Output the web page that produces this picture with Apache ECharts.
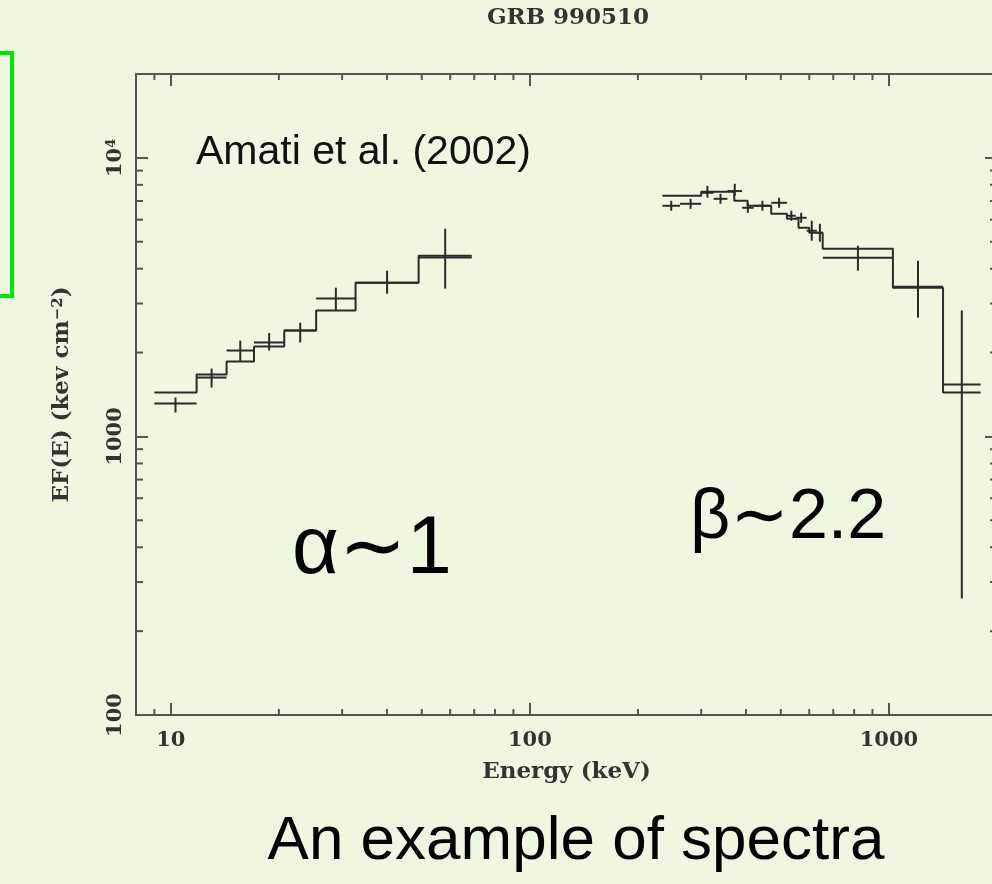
<!DOCTYPE html>
<html>
<meta charset="UTF-8">
<title>grb-990510</title>
<style type="text/css">
    html,
    body {
        margin: 0px;
        height: 100%;
        width: 100%;
        background-color: #eef8e0;
    }

    #chart {
        width: 992px;
        height: 884px;
    }
</style>
<script src="https://cdn.jsdelivr.net/npm/echarts@6.0.0/dist/echarts.min.js"></script>

<body>
    <div id="chart"></div>
    <script>

        // low energy part: bin edges (keV), measured EF(E) with error range, model
        const lowEdges = [9.0, 11.8, 14.3, 17.05, 20.7, 25.4, 32.7, 49.0, 68.9];
        const lowFlux = [1313, 1627, 2034, 2174, 2398, 3124, 3565, 4387];
        const lowFluxMin = [1219, 1498, 1856, 2034, 2174, 2829, 3254, 3393];
        const lowFluxMax = [1380, 1752, 2208, 2350, 2560, 3420, 3936, 5566];
        const lowModel = [1438, 1668, 1856, 2102, 2398, 2830, 3565, 4454];

        // high energy part
        const highEdges = [234, 262, 300, 325, 355, 390, 420, 470, 520, 550, 590, 630, 655, 1026, 1415, 1800];
        const highFlux = [6730, 6841, 7492, 7129, 7600, 6620, 6730, 6898, 6196, 6094, 5474, 5384, 4381, 3449, 1536];
        const highFluxMin = [6460, 6560, 7200, 6840, 7307, 6350, 6460, 6620, 5946, 5850, 5040, 5000, 3936, 2670, 262];
        const highFluxMax = [7013, 7130, 7935, 7430, 8070, 6900, 7013, 7190, 6457, 6350, 5946, 5800, 4836, 4273, 2829];
        const highModelEdges = [234, 300, 371, 404, 470, 520, 560, 600, 654, 1026, 1415, 1800];
        const highModel = [7307, 7552, 7013, 6730, 6300, 6045, 5612, 5384, 4718, 3420, 1438];

        // axes
        const xMin = 8, xMax = 2000;
        const yMin = 100, yMax = 20000;
        const xMajor = [10, 100, 1000];
        const yMajor = [100, 1000, 10000];
        const xMinor = [9, 20, 30, 40, 50, 60, 70, 80, 90, 200, 300, 400, 500, 600, 700, 800, 900];
        const yMinor = [200, 300, 400, 500, 600, 700, 800, 900, 2000, 3000, 4000, 5000, 6000, 7000, 8000, 9000];

        const ink = '#2b2b2b';
        const frame = '#555';
        const serif = '"DejaVu Serif", serif';
        const sans = '"Liberation Sans", "DejaVu Sans", sans-serif';

        function binRows(edges, flux, fmin, fmax) {
            return flux.map((f, i) => [edges[i], edges[i + 1], f, fmin[i], fmax[i]]);
        }

        function steps(edges, values) {
            const pts = [];
            values.forEach((v, i) => {
                pts.push([edges[i], v], [edges[i + 1], v]);
            });
            return pts;
        }

        function renderCross(params, api) {
            const lo = api.value(0), hi = api.value(1);
            const f = api.value(2);
            const mid = Math.sqrt(lo * hi);
            const a = api.coord([lo, f]), b = api.coord([hi, f]);
            const c = api.coord([mid, api.value(3)]), d = api.coord([mid, api.value(4)]);
            const style = { stroke: ink, lineWidth: 2 };
            return {
                type: 'group',
                children: [
                    { type: 'line', shape: { x1: a[0], y1: a[1], x2: b[0], y2: b[1] }, style: style },
                    { type: 'line', shape: { x1: c[0], y1: c[1], x2: d[0], y2: d[1] }, style: style }
                ]
            };
        }

        // minor ticks on all four sides of the frame
        function renderXMinor(params, api) {
            const v = api.value(0);
            const b = api.coord([v, yMin]), t = api.coord([v, yMax]);
            const style = { stroke: frame, lineWidth: 2 };
            return {
                type: 'group',
                children: [
                    { type: 'line', shape: { x1: b[0], y1: b[1], x2: b[0], y2: b[1] - 6 }, style: style },
                    { type: 'line', shape: { x1: t[0], y1: t[1], x2: t[0], y2: t[1] + 6 }, style: style }
                ]
            };
        }

        function renderYMinor(params, api) {
            const v = api.value(1);
            const l = api.coord([xMin, v]), r = api.coord([xMax, v]);
            const style = { stroke: frame, lineWidth: 2 };
            return {
                type: 'group',
                children: [
                    { type: 'line', shape: { x1: l[0], y1: l[1], x2: l[0] + 7, y2: l[1] }, style: style },
                    { type: 'line', shape: { x1: r[0], y1: r[1], x2: r[0] - 7, y2: r[1] }, style: style }
                ]
            };
        }

        function majorLabel(list) {
            return function (v) {
                const r = Math.round(v);
                if (!list.includes(r)) return '';
                if (r === 10000) return '10{sup|4}';
                return String(r);
            };
        }

        const labelText = {
            color: '#333',
            fontFamily: serif,
            fontWeight: 'bold',
            fontSize: 21
        };
        const supText = { fontFamily: serif, fontWeight: 'bold', fontSize: 13, color: '#333', verticalAlign: 'top' };

        const frameAxis = {
            type: 'log',
            logBase: 10,
            axisLine: { show: true, lineStyle: { color: frame, width: 2 } },
            axisTick: { show: true, inside: true, length: 12, lineStyle: { color: frame, width: 2 } },
            splitLine: { show: false }
        };

        const chart = echarts.init(document.querySelector('#chart'));
        const options = {
            backgroundColor: '#eef8e0',
            animation: false,
            grid: { left: 136, top: 74, right: -5, bottom: 169, outerBoundsMode: 'none' },
            xAxis: [
                Object.assign({}, frameAxis, {
                    position: 'bottom',
                    min: xMin,
                    max: xMax,
                    name: 'Energy (keV)',
                    nameLocation: 'middle',
                    nameGap: 46,
                    nameTextStyle: Object.assign({}, labelText, { fontSize: 23 }),
                    axisLabel: Object.assign({}, labelText, {
                        margin: 15,
                        showMinLabel: false,
                        showMaxLabel: false,
                        formatter: majorLabel(xMajor)
                    })
                }),
                Object.assign({}, frameAxis, {
                    position: 'top',
                    min: xMin,
                    max: xMax,
                    axisLabel: { show: false }
                })
            ],
            yAxis: [
                Object.assign({}, frameAxis, {
                    position: 'left',
                    min: yMin,
                    max: yMax,
                    name: 'EF(E) (kev cm{sup|−2})',
                    nameLocation: 'middle',
                    nameGap: 62,
                    nameTextStyle: Object.assign({}, labelText, {
                        fontSize: 23,
                        rich: { sup: Object.assign({}, supText, { fontSize: 15 }) }
                    }),
                    axisLabel: Object.assign({}, labelText, {
                        rotate: 90,
                        margin: 10,
                        showMinLabel: true,
                        showMaxLabel: false,
                        formatter: majorLabel(yMajor),
                        rich: { sup: supText }
                    })
                }),
                Object.assign({}, frameAxis, {
                    position: 'right',
                    min: yMin,
                    max: yMax,
                    axisLabel: { show: false }
                })
            ],
            graphic: [
                {
                    type: 'rect',
                    shape: { x: -10, y: 53, width: 22, height: 243 },
                    style: { fill: 'none', stroke: '#00e600', lineWidth: 4 }
                },
                {
                    type: 'text', x: 568, y: 18,
                    style: { text: 'GRB 990510', fontFamily: serif, fontWeight: 'bold', fontSize: 23, fill: '#333', align: 'center', verticalAlign: 'middle' }
                },
                {
                    type: 'text', x: 196, y: 153,
                    style: { text: 'Amati et al. (2002)', fontFamily: sans, fontSize: 41, fill: '#111', align: 'left', verticalAlign: 'middle' }
                },
                {
                    type: 'text', x: 292, y: 551,
                    style: { text: 'α∼1', fontFamily: sans, fontSize: 81, fill: '#000', align: 'left', verticalAlign: 'middle' }
                },
                {
                    type: 'text', x: 690, y: 519,
                    style: { text: 'β∼2.2', fontFamily: sans, fontSize: 70, fill: '#000', align: 'left', verticalAlign: 'middle' }
                },
                {
                    type: 'text', x: 576, y: 842,
                    style: { text: 'An example of spectra', fontFamily: sans, fontSize: 62, fill: '#000', align: 'center', verticalAlign: 'middle' }
                }
            ],
            series: [
                {
                    type: 'custom',
                    name: 'x minor ticks',
                    renderItem: renderXMinor,
                    data: xMinor.map(v => [v, yMin]),
                    silent: true
                },
                {
                    type: 'custom',
                    name: 'y minor ticks',
                    renderItem: renderYMinor,
                    data: yMinor.map(v => [xMin, v]),
                    silent: true
                },
                {
                    type: 'line',
                    name: 'model low',
                    data: steps(lowEdges, lowModel),
                    symbol: 'none',
                    lineStyle: { color: ink, width: 2 }
                },
                {
                    type: 'line',
                    name: 'model high',
                    data: steps(highModelEdges, highModel),
                    symbol: 'none',
                    lineStyle: { color: ink, width: 2 }
                },
                {
                    type: 'custom',
                    name: 'data low',
                    renderItem: renderCross,
                    encode: { x: [0, 1], y: [2, 3, 4] },
                    data: binRows(lowEdges, lowFlux, lowFluxMin, lowFluxMax)
                },
                {
                    type: 'custom',
                    name: 'data high',
                    renderItem: renderCross,
                    encode: { x: [0, 1], y: [2, 3, 4] },
                    data: binRows(highEdges, highFlux, highFluxMin, highFluxMax)
                }
            ]
        };
        chart.setOption(options);

    </script>
</body>

</html>
